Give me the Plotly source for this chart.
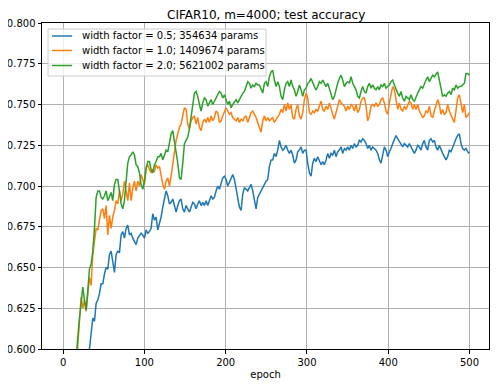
import numpy as np
import plotly.graph_objects as go

# epochs before the curves enter the visible window (values below 0.6, clipped by the axis)
lead_epochs = [0, 8, 15]
# readings were taken on an evenly spaced grid of 235 epochs between 20 and 500
grid_epochs = np.linspace(20.1, 499.8, 235)
epochs = np.concatenate([lead_epochs, grid_epochs])

labels = [
    'width factor = 0.5; 354634 params',
    'width factor = 1.0; 1409674 params',
    'width factor = 2.0; 5621002 params',
]

acc_w05 = [
    0.33, 0.45, 0.52,
    0.555, 0.563, 0.572, 0.580, 0.588, 0.594, 0.600, 0.609, 0.619, 0.617,
    0.628, 0.630, 0.634, 0.640, 0.640, 0.646, 0.650, 0.649, 0.658, 0.660,
    0.654, 0.647, 0.658, 0.660, 0.659, 0.670, 0.672, 0.668, 0.674, 0.676,
    0.670, 0.671, 0.668, 0.666, 0.664, 0.668, 0.670, 0.671, 0.670, 0.668,
    0.673, 0.671, 0.672, 0.674, 0.683, 0.679, 0.681, 0.673,
    0.677, 0.681, 0.687, 0.692, 0.697, 0.694, 0.689, 0.690, 0.692, 0.688,
    0.684, 0.688, 0.691, 0.692, 0.686, 0.684, 0.688, 0.686, 0.684, 0.687,
    0.690, 0.689, 0.686, 0.689, 0.691, 0.688, 0.690, 0.688, 0.691, 0.688,
    0.691, 0.694, 0.692, 0.693, 0.697, 0.700, 0.698, 0.702, 0.705, 0.706,
    0.704, 0.700, 0.702, 0.705, 0.707, 0.704, 0.698, 0.692, 0.687, 0.685,
    0.695, 0.699, 0.698, 0.697, 0.699, 0.701, 0.697, 0.692, 0.686, 0.693,
    0.695, 0.697, 0.700, 0.702, 0.703, 0.704, 0.712, 0.716, 0.716, 0.720,
    0.718, 0.722, 0.728, 0.724, 0.722, 0.723, 0.725, 0.722, 0.720, 0.722,
    0.719, 0.714, 0.716, 0.721, 0.722, 0.724, 0.720, 0.722, 0.722, 0.714,
    0.708, 0.706, 0.714, 0.717, 0.715, 0.718, 0.716, 0.713, 0.715, 0.713,
    0.716, 0.720, 0.717, 0.720, 0.719, 0.722, 0.718, 0.721, 0.722, 0.724,
    0.720, 0.723, 0.722, 0.724, 0.722, 0.725, 0.723, 0.726, 0.724, 0.725,
    0.728, 0.727, 0.729,
    0.728, 0.726, 0.723, 0.725, 0.722, 0.724, 0.723, 0.722, 0.720, 0.716,
    0.714, 0.720, 0.724, 0.722, 0.718, 0.721, 0.723, 0.726, 0.729, 0.731,
    0.729, 0.727, 0.726, 0.724, 0.726, 0.725, 0.724, 0.726, 0.724, 0.722,
    0.720, 0.722, 0.725, 0.724, 0.722, 0.726, 0.728, 0.724, 0.722, 0.728,
    0.729, 0.727, 0.728, 0.724, 0.722, 0.725, 0.722, 0.720, 0.718, 0.716,
    0.718, 0.722, 0.721, 0.724, 0.726, 0.729, 0.731, 0.732, 0.726, 0.723,
    0.722, 0.723, 0.721, 0.720,
]

acc_w10 = [
    0.36, 0.50, 0.580,
    0.617, 0.632, 0.625, 0.630, 0.623, 0.636, 0.644, 0.639, 0.658, 0.666,
    0.674, 0.673, 0.680, 0.685, 0.686, 0.680, 0.688, 0.670, 0.682, 0.674,
    0.681, 0.685, 0.691, 0.689, 0.697, 0.691, 0.695, 0.703, 0.697, 0.691,
    0.702, 0.691, 0.699, 0.703, 0.697, 0.703, 0.700, 0.707, 0.704, 0.701,
    0.711, 0.713, 0.710, 0.708, 0.710, 0.709, 0.713, 0.711,
    0.712, 0.706, 0.701, 0.698, 0.703, 0.705, 0.700, 0.706, 0.714, 0.722,
    0.728, 0.732, 0.736, 0.738, 0.744, 0.748, 0.747, 0.738, 0.735, 0.740,
    0.742, 0.743, 0.738, 0.742, 0.736, 0.734, 0.739, 0.741, 0.739, 0.742,
    0.739, 0.743, 0.740, 0.742, 0.746, 0.745, 0.739, 0.740, 0.743, 0.746,
    0.748, 0.746, 0.744, 0.745, 0.742, 0.741, 0.740, 0.742, 0.739, 0.741,
    0.740, 0.742, 0.743, 0.739, 0.742, 0.745, 0.746, 0.744, 0.742, 0.739,
    0.736, 0.733, 0.740, 0.743, 0.740, 0.742, 0.740, 0.741, 0.742, 0.739,
    0.741, 0.743, 0.744, 0.747, 0.745, 0.750, 0.746, 0.751, 0.747, 0.750,
    0.742, 0.741, 0.747, 0.750, 0.743, 0.741, 0.745, 0.753, 0.757, 0.754,
    0.745, 0.744, 0.746, 0.745, 0.747, 0.746, 0.749, 0.752, 0.747, 0.746,
    0.749, 0.747, 0.751, 0.747, 0.744, 0.741, 0.745, 0.750, 0.753, 0.751,
    0.750, 0.749, 0.746, 0.749, 0.747, 0.750, 0.749, 0.746, 0.750, 0.745,
    0.747, 0.752, 0.754,
    0.754, 0.749, 0.740, 0.743, 0.749, 0.750, 0.749, 0.751, 0.749, 0.750,
    0.753, 0.754, 0.751, 0.746, 0.744, 0.751, 0.756, 0.761, 0.759, 0.754,
    0.747, 0.751, 0.747, 0.746, 0.749, 0.747, 0.750, 0.752, 0.751, 0.747,
    0.750, 0.747, 0.750, 0.746, 0.744, 0.742, 0.743, 0.746, 0.745, 0.749,
    0.743, 0.742, 0.746, 0.749, 0.753, 0.750, 0.744, 0.747, 0.744, 0.745,
    0.750, 0.746, 0.743, 0.741, 0.739, 0.747, 0.754, 0.756, 0.749, 0.745,
    0.750, 0.742, 0.743, 0.745,
]

acc_w20 = [
    0.38, 0.50, 0.589,
    0.619, 0.630, 0.638, 0.630, 0.624, 0.636, 0.649, 0.652, 0.660, 0.674,
    0.693, 0.697, 0.697, 0.693, 0.692, 0.694, 0.697, 0.691, 0.694, 0.696,
    0.691, 0.701, 0.704, 0.704, 0.697, 0.689, 0.686, 0.691, 0.703, 0.714,
    0.718, 0.719, 0.721, 0.719, 0.713, 0.712, 0.708, 0.701, 0.698, 0.703,
    0.711, 0.715, 0.715, 0.710, 0.708, 0.713, 0.715, 0.718,
    0.718, 0.720, 0.716, 0.719, 0.722, 0.721, 0.726, 0.732, 0.734, 0.728,
    0.722, 0.714, 0.705, 0.704, 0.714, 0.726, 0.728, 0.730, 0.735, 0.742,
    0.749, 0.757, 0.758, 0.755, 0.750, 0.746, 0.751, 0.754, 0.753, 0.749,
    0.751, 0.753, 0.750, 0.752, 0.754, 0.756, 0.758, 0.757, 0.754, 0.756,
    0.753, 0.750, 0.752, 0.748, 0.750, 0.752, 0.753, 0.751, 0.753, 0.754,
    0.757, 0.758, 0.761, 0.764, 0.763, 0.760, 0.762, 0.761, 0.763, 0.762,
    0.762, 0.760, 0.757, 0.763, 0.764, 0.761, 0.767, 0.770, 0.771, 0.765,
    0.761, 0.764, 0.761, 0.755, 0.753, 0.759, 0.763, 0.764, 0.761, 0.765,
    0.761, 0.759, 0.755, 0.758, 0.762, 0.759, 0.755, 0.759, 0.760, 0.763,
    0.764, 0.766, 0.763, 0.761, 0.759, 0.761, 0.764, 0.763, 0.765, 0.763,
    0.761, 0.763, 0.760, 0.756, 0.753, 0.755, 0.760, 0.763, 0.766, 0.768,
    0.765, 0.761, 0.763, 0.764, 0.763, 0.767, 0.763, 0.761, 0.759, 0.755,
    0.754, 0.758, 0.761,
    0.758, 0.757, 0.761, 0.763, 0.760, 0.762, 0.760, 0.759, 0.761, 0.759,
    0.762, 0.761, 0.763, 0.760, 0.761, 0.762, 0.764, 0.765, 0.762, 0.759,
    0.757, 0.755, 0.758, 0.754, 0.752, 0.755, 0.754, 0.753, 0.756, 0.753,
    0.752, 0.755, 0.757, 0.759, 0.761, 0.760, 0.763, 0.765, 0.767, 0.764,
    0.766, 0.768, 0.767, 0.769, 0.770, 0.765, 0.759, 0.755, 0.756, 0.755,
    0.757, 0.758, 0.756, 0.760, 0.759, 0.762, 0.760, 0.761, 0.761, 0.762,
    0.763, 0.769, 0.769, 0.768,
]

colors = ['#1f77b4', '#ff7f0e', '#2ca02c']

# the page body has an 8px margin, so the figure is shrunk to fit the window
PAGE_PAD = 8
W, H = 499 - PAGE_PAD, 387 - PAGE_PAD
# plot area in window pixels (matplotlib-like layout)
PLOT_L, PLOT_R, PLOT_T, PLOT_B = 42, 489, 23, 349


def paper_x(px):
    return (px - PLOT_L) / (PLOT_R - PLOT_L)


def paper_y(py):
    return (PLOT_B - py) / (PLOT_B - PLOT_T)


fig = go.Figure()
for acc, label, color in zip([acc_w05, acc_w10, acc_w20], labels, colors):
    fig.add_trace(go.Scatter(x=epochs, y=acc, mode='lines', name=label,
                             line=dict(color=color, width=1.5)))

# title as an annotation so it sits just inside the top edge of the figure
fig.add_annotation(xref='paper', yref='paper', x=paper_x(266), y=paper_y(15),
                   text='CIFAR10, m=4000; test accuracy', showarrow=False,
                   xanchor='center', yanchor='middle', font=dict(size=12, color='black'))

# legend drawn by hand so the rows are as tight as matplotlib's
legend_rows = [36, 50.5, 65.5]
fig.add_shape(type='rect', xref='paper', yref='paper',
              x0=paper_x(48), x1=paper_x(266), y0=paper_y(29), y1=paper_y(76),
              line=dict(color='#cccccc', width=1), fillcolor='rgba(255,255,255,0.8)')
for row, label, color in zip(legend_rows, labels, colors):
    fig.add_shape(type='line', xref='paper', yref='paper',
                  x0=paper_x(52), x1=paper_x(72), y0=paper_y(row), y1=paper_y(row),
                  line=dict(color=color, width=1.5))
    fig.add_annotation(xref='paper', yref='paper', x=paper_x(80), y=paper_y(row),
                       text=label, showarrow=False, xanchor='left', yanchor='middle',
                       font=dict(size=10, color='black'))

axis_style = dict(showline=True, mirror=True, linecolor='black', linewidth=1,
                  ticks='outside', ticklen=3.5, tickcolor='black', automargin=False,
                  showgrid=True, gridcolor='#b0b0b0', gridwidth=0.8,
                  zeroline=False, tickfont=dict(size=10, color='black'))

fig.update_layout(
    width=W, height=H,
    margin=dict(l=PLOT_L - PAGE_PAD, r=W + PAGE_PAD - PLOT_R,
                t=PLOT_T - PAGE_PAD, b=H + PAGE_PAD - PLOT_B),
    paper_bgcolor='white', plot_bgcolor='white',
    font=dict(family='DejaVu Sans', size=10, color='black'),
    showlegend=False,
)
fig.update_xaxes(range=[-26, 524], tick0=0, dtick=100,
                 title=dict(text='epoch', font=dict(size=10), standoff=4), **axis_style)
fig.update_yaxes(range=[0.6, 0.8], tick0=0.6, dtick=0.025, tickformat='.3f', **axis_style)

fig.write_html("out.html")
